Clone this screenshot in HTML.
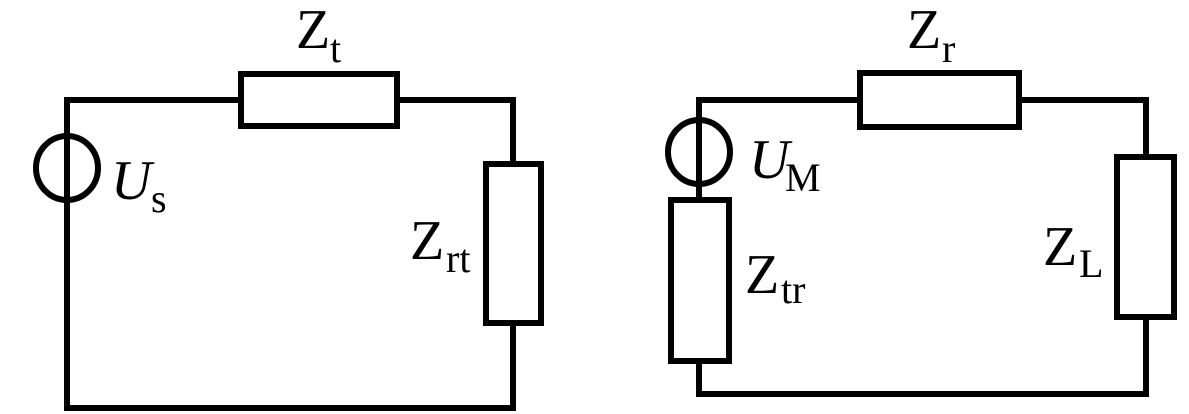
<!DOCTYPE html>
<html><head><meta charset="utf-8"><style>html,body{margin:0;padding:0;background:#fff}svg{display:block}
text{font-family:"Liberation Serif","Times New Roman",Times,"Noto Serif CJK SC",serif;}</style></head>
<body>
<svg width="1189" height="414" viewBox="0 0 1189 414" xmlns="http://www.w3.org/2000/svg">
<g fill="none" stroke="#000" stroke-width="6" stroke-linecap="square">
<polyline points="241,100 67,100 67,408 513,408 513,326"/>
<polyline points="397,100 513,100 513,164"/>
<rect x="241" y="74" width="156" height="52" fill="#fff"/>
<rect x="486" y="164" width="55" height="159" fill="#fff"/>
<ellipse cx="67" cy="168" rx="31" ry="32"/>
<polyline points="860,100 699,100 699,200"/>
<polyline points="699,361 699,394 1146,394 1146,320"/>
<polyline points="1019,100 1146,100 1146,157"/>
<rect x="860" y="73" width="159" height="54" fill="#fff"/>
<rect x="1117" y="157" width="57" height="160" fill="#fff"/>
<rect x="671" y="200" width="58" height="161" fill="#fff"/>
<ellipse cx="699" cy="152" rx="31" ry="32"/>
</g>
<g fill="#000">
<text x="296" y="48" font-size="56">Z</text><text x="330" y="62" font-size="40">t</text>
<text x="111" y="199" font-size="56" font-style="italic">U</text><text x="151" y="212" font-size="40">s</text>
<text x="410" y="259" font-size="56">Z</text><text x="446" y="272" font-size="40">rt</text>
<text x="907" y="48" font-size="56">Z</text><text x="942" y="62" font-size="40">r</text>
<text x="749" y="178" font-size="56" font-style="italic">U</text><text x="785" y="191" font-size="40">M</text>
<text x="745" y="293" font-size="56">Z</text><text x="781" y="303" font-size="40">tr</text>
<text x="1043" y="265" font-size="56">Z</text><text x="1079" y="277" font-size="40">L</text>
</g>
</svg>
</body></html>
